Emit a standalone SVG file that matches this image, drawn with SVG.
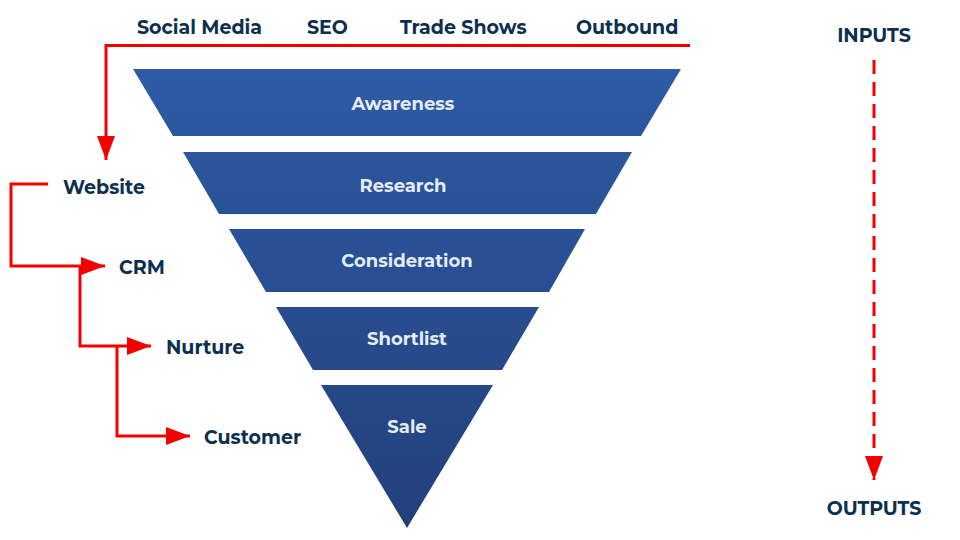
<svg xmlns="http://www.w3.org/2000/svg" width="960" height="540" viewBox="0 0 960 540">
<style>
.lbl{font-family:Montserrat,"Open Sans","Liberation Sans",sans-serif;font-weight:700;font-size:19px;fill:#0d2f4f}
.in{font-family:Montserrat,"Open Sans","Liberation Sans",sans-serif;font-weight:700;font-size:18px;fill:#e3ecf7;text-anchor:middle}
.stage{fill:url(#g)}
.c{fill:none;stroke:#f20000;stroke-width:3}
</style>
<defs>
<linearGradient id="g" x1="0" y1="0" x2="0" y2="540" gradientUnits="userSpaceOnUse">
<stop offset="0.1" stop-color="#2f5ba7"/><stop offset="1" stop-color="#223f7a"/>
</linearGradient>
<marker id="a" markerWidth="8" markerHeight="6" refX="8" refY="3" orient="auto" markerUnits="strokeWidth"><path d="M0,0L8,3L0,6z" fill="#f20000"/></marker>
</defs>
<g id="inputs">
<text class="lbl" x="137" y="34">Social Media</text>
<text class="lbl" x="307" y="34">SEO</text>
<text class="lbl" x="400" y="34">Trade Shows</text>
<text class="lbl" x="576" y="34">Outbound</text>
</g>
<g id="awareness"><polygon class="stage" points="133,69 681,69 641,136 173,136"/><text class="in" x="403" y="110">Awareness</text></g>
<g id="research"><polygon class="stage" points="183,152 632,152 596,214 219,214"/><text class="in" x="403" y="192">Research</text></g>
<g id="consideration"><polygon class="stage" points="229,229 585,229 549,292 266,292"/><text class="in" x="407" y="267">Consideration</text></g>
<g id="shortlist"><polygon class="stage" points="276,307 539,307 502,370 313,370"/><text class="in" x="407" y="345">Shortlist</text></g>
<g id="sale"><polygon class="stage" points="321,385 493,385 407,528"/><text class="in" x="407" y="433">Sale</text></g>
<g id="website"><text class="lbl" x="63" y="194">Website</text></g>
<g id="crm"><text class="lbl" x="119" y="274">CRM</text></g>
<g id="nurture"><text class="lbl" x="166" y="354">Nurture</text></g>
<g id="customer"><text class="lbl" x="204" y="444">Customer</text></g>
<g id="inputs-label"><text class="lbl" x="874" y="42" text-anchor="middle">INPUTS</text></g>
<g id="outputs-label"><text class="lbl" x="874" y="515" text-anchor="middle">OUTPUTS</text></g>
<g id="connectors">
<path class="c" d="M690,45.5H106V160" marker-end="url(#a)"/>
<path class="c" d="M48,184H11V266H105" marker-end="url(#a)"/>
<path class="c" d="M80,266V346H151" marker-end="url(#a)"/>
<path class="c" d="M117,346V436H190" marker-end="url(#a)"/>
<path class="c" d="M874,60V480" stroke-dasharray="14,8" marker-end="url(#a)"/>
</g>
</svg>
